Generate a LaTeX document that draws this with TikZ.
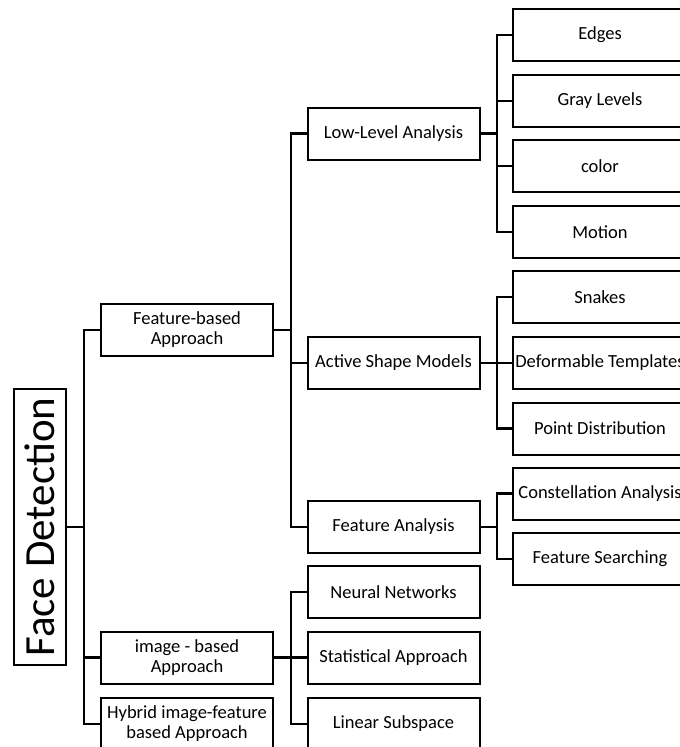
\documentclass[tikz,border=0pt]{standalone}
\usepackage{fontspec}
\setmainfont{Carlito}
\begin{document}
\begin{tikzpicture}[x=1pt,y=-1pt,
  box/.style={draw=black, line width=2pt, rectangle, minimum width=172pt, minimum height=52pt, inner sep=1pt, align=center, font=\fontsize{18.5}{20}\selectfont},
  leaf/.style={box, minimum width=174pt},
  conn/.style={draw=black, line width=2.4pt}]
\clip (0,0) rectangle (680,747);
\useasboundingbox (0,0) rectangle (680,747);
\fill[white] (0,0) rectangle (680,747);
% root
\node[draw=black, line width=2pt, minimum width=52pt, minimum height=276pt, inner sep=0pt] (fd) at (40,527) {};
\node[rotate=90, font=\fontsize{43}{46}\selectfont] (fdt) at (fd.center) {Face Detection};
% level 1
\node[box] (fb) at (187,330) {Feature-based\\Approach};
\node[box] (ib) at (187,657.5) {image - based\\Approach};
\node[box] (hy) at (187,724) {Hybrid image-feature\\based Approach};
% level 2
\node[box] (ll) at (393.5,133.5) {Low-Level Analysis};
\node[box] (asm) at (393.5,363) {Active Shape Models};
\node[box] (fa) at (393.5,527) {Feature Analysis};
\node[box] (nn) at (393.5,592) {Neural Networks};
\node[box] (sa) at (393.5,657.5) {Statistical Approach};
\node[box] (ls) at (393.5,724) {Linear Subspace};
% level 3
\node[leaf] (ed) at (600,35) {Edges};
\node[leaf] (gl) at (600,101) {Gray Levels};
\node[leaf] (co) at (600,166) {color};
\node[leaf] (mo) at (600,232) {Motion};
\node[leaf] (sn) at (600,297) {Snakes};
\node[leaf] (dt) at (600,363) {Deformable Templates};
\node[leaf] (pd) at (600,428.5) {Point Distribution};
\node[leaf] (ca) at (600,493.5) {Constellation Analysis};
\node[leaf] (fs) at (600,559) {Feature Searching};
% connectors
\foreach \c in {fb,ib,hy} \draw[conn] (fd.east) -- ++(17,0) |- (\c.west);
\foreach \c in {ll,asm,fa} \draw[conn] (fb.east) -- ++(17,0) |- (\c.west);
\foreach \c in {nn,sa,ls} \draw[conn] (ib.east) -- ++(17,0) |- (\c.west);
\foreach \c in {ed,gl,co,mo} \draw[conn] (ll.east) -- ++(16.5,0) |- (\c.west);
\foreach \c in {sn,dt,pd} \draw[conn] (asm.east) -- ++(16.5,0) |- (\c.west);
\foreach \c in {ca,fs} \draw[conn] (fa.east) -- ++(16.5,0) |- (\c.west);
\end{tikzpicture}
\end{document}
